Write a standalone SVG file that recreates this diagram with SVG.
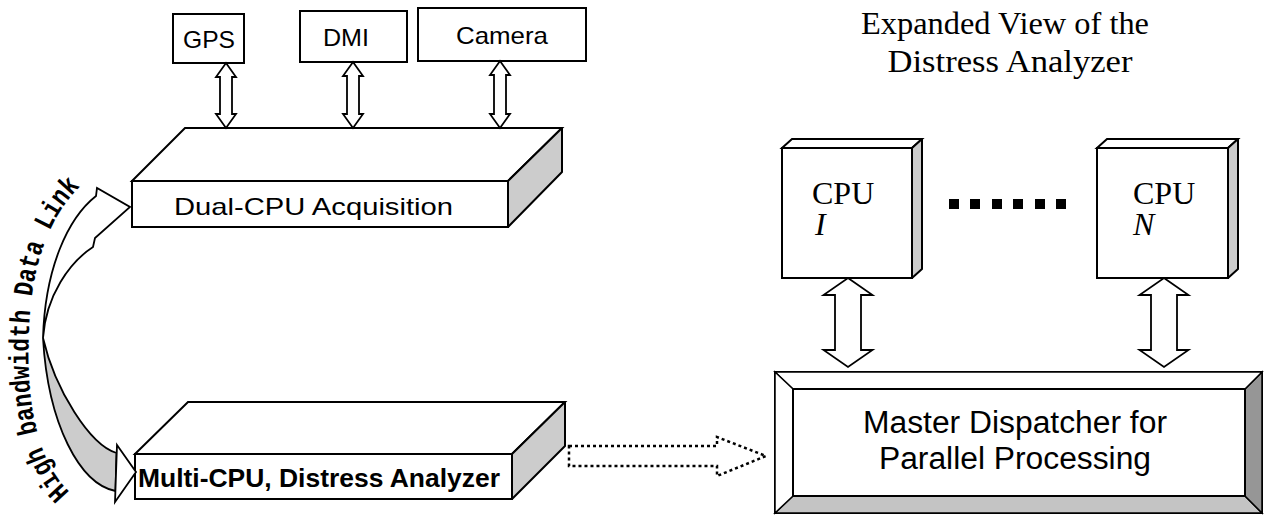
<svg xmlns="http://www.w3.org/2000/svg" width="1267" height="516" viewBox="0 0 1267 516">
<style>
.box{fill:#fff;stroke:#000;stroke-width:2}
.side{fill:#cccccc;stroke:#000;stroke-width:2;stroke-linejoin:round}
.arr{fill:#fff;stroke:#000;stroke-width:1.8;stroke-linejoin:miter}
.sans{font-family:"Liberation Sans",Arial,sans-serif;fill:#000}
.serif{font-family:"Liberation Serif","Times New Roman",serif;fill:#000}
.mono{font-family:"Liberation Mono","Courier New",monospace;font-weight:bold;fill:#000}
</style>
<rect width="1267" height="516" fill="#fff"/>
<g id="gps">
<rect class="box" x="173" y="14" width="71" height="49"/>
<text class="sans" x="209" y="48" font-size="24" text-anchor="middle" textLength="52" lengthAdjust="spacingAndGlyphs">GPS</text>
</g>
<g id="dmi">
<rect class="box" x="300" y="11" width="107" height="51"/>
<text class="sans" x="346" y="46" font-size="24" text-anchor="middle" textLength="46" lengthAdjust="spacingAndGlyphs">DMI</text>
</g>
<g id="camera">
<rect class="box" x="418" y="8" width="168" height="53"/>
<text class="sans" x="502" y="44" font-size="24" text-anchor="middle" textLength="92" lengthAdjust="spacingAndGlyphs">Camera</text>
</g>
<g id="dual-cpu">
<polygon class="box" points="132,181 185,128 562,128 508,181"/>
<polygon class="side" points="508,181 562,128 562,172 508,227"/>
<rect class="box" x="132" y="181" width="376" height="46"/>
<text class="sans" x="174" y="215" font-size="24" textLength="279" lengthAdjust="spacingAndGlyphs">Dual-CPU Acquisition</text>
</g>
<g id="multi-cpu">
<polygon class="box" points="135,454 188,402 565,402 512,454"/>
<polygon class="side" points="512,454 565,402 565,446 512,499"/>
<rect class="box" x="135" y="454" width="377" height="45"/>
<text class="sans" x="138" y="487" font-size="26" font-weight="bold" textLength="362" lengthAdjust="spacingAndGlyphs">Multi-CPU, Distress Analyzer</text>
</g>
<g id="title">
<text class="serif" font-size="31" text-anchor="middle"><tspan x="1005" y="34" textLength="288" lengthAdjust="spacingAndGlyphs">Expanded View of the</tspan><tspan x="1010" y="72" textLength="245" lengthAdjust="spacingAndGlyphs">Distress Analyzer</tspan></text>
</g>
<g id="cpu-1">
<polygon class="box" points="782,148 792,139 922,139 912,148"/>
<polygon class="side" points="912,148 922,139 922,269 912,278"/>
<rect class="box" x="782" y="148" width="130" height="130"/>
<text class="serif" font-size="32"><tspan x="812" y="204">CPU</tspan><tspan x="815" y="235" font-style="italic">I</tspan></text>
</g>
<g id="dots">
<rect x="949" y="199" width="10" height="10"/>
<rect x="970" y="199" width="10" height="10"/>
<rect x="992" y="199" width="10" height="10"/>
<rect x="1013" y="199" width="10" height="10"/>
<rect x="1035" y="199" width="10" height="10"/>
<rect x="1056" y="199" width="10" height="10"/>
</g>
<g id="cpu-n">
<polygon class="box" points="1097,148 1107,139 1238,139 1228,148"/>
<polygon class="side" points="1228,148 1238,139 1238,269 1228,278"/>
<rect class="box" x="1097" y="148" width="131" height="130"/>
<text class="serif" font-size="32"><tspan x="1133" y="204">CPU</tspan><tspan x="1133" y="235" font-style="italic">N</tspan></text>
</g>
<g id="master">
<rect x="775" y="372" width="487" height="141" fill="#fff" stroke="#000" stroke-width="2"/>
<polygon points="775,513 793,496 1245,496 1262,513" fill="#c4c4c4" stroke="#000" stroke-width="1.5"/>
<polygon points="1262,372 1262,513 1245,496 1245,389" fill="#969696" stroke="#000" stroke-width="1.5"/>
<polygon points="775,372 1262,372 1245,389 793,389" fill="#fff" stroke="#000" stroke-width="1.5"/>
<polygon points="775,372 793,389 793,496 775,513" fill="#fff" stroke="#000" stroke-width="1.5"/>
<rect x="793" y="389" width="452" height="107" fill="#fff" stroke="#000" stroke-width="2"/>
<text class="sans" font-size="31" text-anchor="middle"><tspan x="1015" y="433" textLength="304" lengthAdjust="spacingAndGlyphs">Master Dispatcher for</tspan><tspan x="1015" y="469" textLength="272" lengthAdjust="spacingAndGlyphs">Parallel Processing</tspan></text>
</g>
<g id="connectors">
<path class="arr" d="M226,63 L236,77 L232,77 L232,114 L236,114 L226,128 L216,114 L220,114 L220,77 L216,77 Z"/>
<path class="arr" d="M353,62 L363,76 L359,76 L359,114 L363,114 L353,128 L343,114 L347,114 L347,76 L343,76 Z"/>
<path class="arr" d="M500,61 L510,75 L506,75 L506,114 L510,114 L500,128 L490,114 L494,114 L494,75 L490,75 Z"/>
<path class="arr" d="M848,278 L872.5,295 L861,295 L861,350 L872.5,350 L848,367 L823.5,350 L835,350 L835,295 L823.5,295 Z"/>
<path class="arr" d="M1164,278 L1188.5,295 L1177,295 L1177,350 L1188.5,350 L1164,367 L1139.5,350 L1151,350 L1151,295 L1139.5,295 Z"/>
<path d="M569,446 L717,446 L717,437 L766,456 L717,476 L717,466 L569,466 Z" fill="none" stroke="#000" stroke-width="2.5" stroke-dasharray="3,3"/>
<g id="data-link">
<path d="M96,196 C68,218 45,268 43,338 C46,295 70,262 93,247 L95,238 L130,207 L97,188 Z" fill="#fff" stroke="#000" stroke-width="1.8" stroke-linejoin="miter"/>
<path d="M43,338 C48,425 80,484 115.5,491 L116.5,453 C90,445 55,390 43,338 Z" fill="#cccccc" stroke="#000" stroke-width="1.8"/>
<polygon points="117,445 136,472 115,502" fill="#fff" stroke="#000" stroke-width="1.8"/>
<path id="linkpath" d="M70,492 C36,460 26,400 29,330 C32,260 51,212 86,181" fill="none"/>
<text class="mono" font-size="28"><textPath href="#linkpath" textLength="328" lengthAdjust="spacingAndGlyphs">High bandwidth Data Link</textPath></text>
</g>
</g>
</svg>
